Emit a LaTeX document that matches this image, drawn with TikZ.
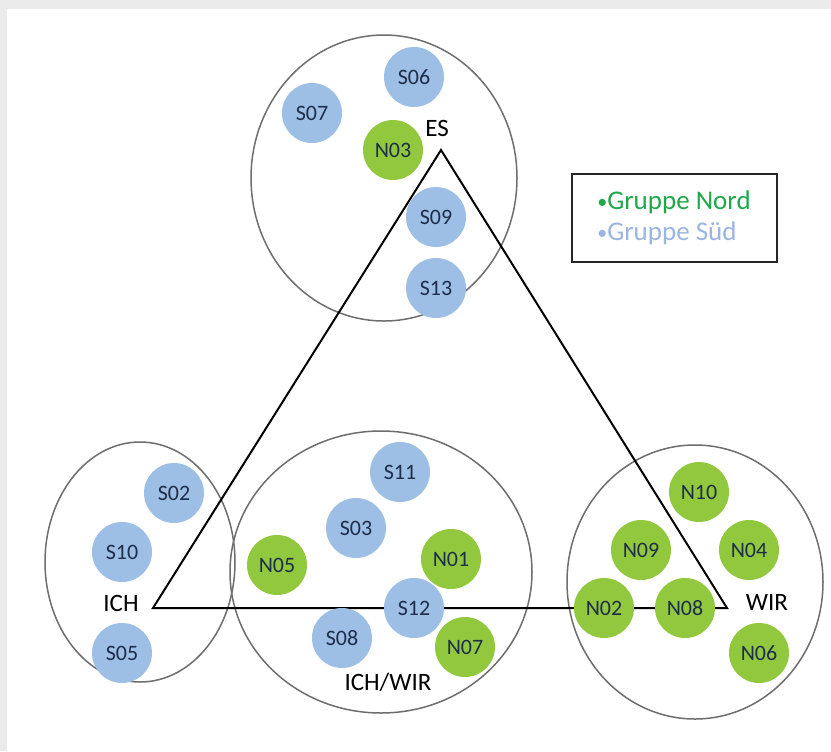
\documentclass[tikz,border=0pt]{standalone}
\usepackage{fontspec}
\setmainfont{Carlito}
\usepackage{xcolor}
\usepackage{tikz}
\definecolor{suedblau}{HTML}{9DBFE6}
\definecolor{nordgruen}{HTML}{92C83E}
\definecolor{schrift}{HTML}{1E2D4A}
\definecolor{legnord}{HTML}{1FA84A}
\definecolor{legsued}{HTML}{9AB6E0}
\definecolor{rand}{HTML}{6E6E6E}
\newcommand{\punktzeichen}{{\fontsize{10}{10}\selectfont\raisebox{0.6pt}{•}}}
\begin{document}
\begin{tikzpicture}[x=0.5pt,y=-0.5pt,
    punkt/.style={circle,inner sep=0pt,minimum size=30pt,text=schrift,font=\fontsize{11}{12}\selectfont},
    sued/.style={punkt,fill=suedblau},
    nord/.style={punkt,fill=nordgruen},
    grp/.style={draw=rand,line width=0.75pt},
    ecke/.style={font=\fontsize{12.5}{14}\selectfont}]
    \useasboundingbox (0,0) rectangle (831,751);
    \fill[black!8] (0,0) rectangle (831,751);
    \fill[white] (7,9) rectangle (831,751);
    % Bereiche
    \draw[grp] (384,178) ellipse [x radius=133,y radius=143];
    \draw[grp] (140,562) ellipse [x radius=95,y radius=120];
    \draw[grp] (381,572) ellipse [x radius=151,y radius=141];
    \draw[grp] (695,582) ellipse [x radius=128,y radius=137];
    % Dreieck
    \coordinate (es) at (441,150);
    \coordinate (ich) at (153,608);
    \coordinate (wir) at (727,608);
    \draw[line width=1pt,line join=miter] (ich) -- (es) -- (wir) -- cycle;
    \node[ecke] (esl) at (437,128) {ES};
    \node[ecke] (ichl) at (121,603) {ICH};
    \node[ecke] (wirl) at (767,602) {WIR};
    \node[ecke] (ichwirl) at (388,682) {ICH/WIR};
    % ES
    \node[sued] (s06) at (414,77) {S06};
    \node[sued] (s07) at (312,113) {S07};
    \node[nord] (n03) at (393,150) {N03};
    \node[sued] (s09) at (436,217) {S09};
    \node[sued] (s13) at (436,288) {S13};
    % ICH
    \node[sued] (s02) at (174,493) {S02};
    \node[sued] (s10) at (122,552) {S10};
    \node[sued] (s05) at (122,653) {S05};
    % ICH/WIR
    \node[sued] (s11) at (400,472) {S11};
    \node[sued] (s03) at (356,528) {S03};
    \node[nord] (n05) at (277,565) {N05};
    \node[nord] (n01) at (451,559) {N01};
    \node[sued] (s12) at (414,608) {S12};
    \node[sued] (s08) at (342,638) {S08};
    \node[nord] (n07) at (465,647) {N07};
    % WIR
    \node[nord] (n10) at (699,492) {N10};
    \node[nord] (n09) at (641,550) {N09};
    \node[nord] (n04) at (749,550) {N04};
    \node[nord] (n02) at (604,608) {N02};
    \node[nord] (n08) at (685,608) {N08};
    \node[nord] (n06) at (759,653) {N06};
    % Legende
    \node[draw=black!85,line width=1pt,minimum width=102.5pt,minimum height=44pt,
          align=left,font=\fontsize{13.5}{15.5}\selectfont] (legende) at (674,218)
          {\textcolor{legnord}{\punktzeichen Gruppe Nord}\\\textcolor{legsued}{\punktzeichen Gruppe Süd}};
\end{tikzpicture}
\end{document}
